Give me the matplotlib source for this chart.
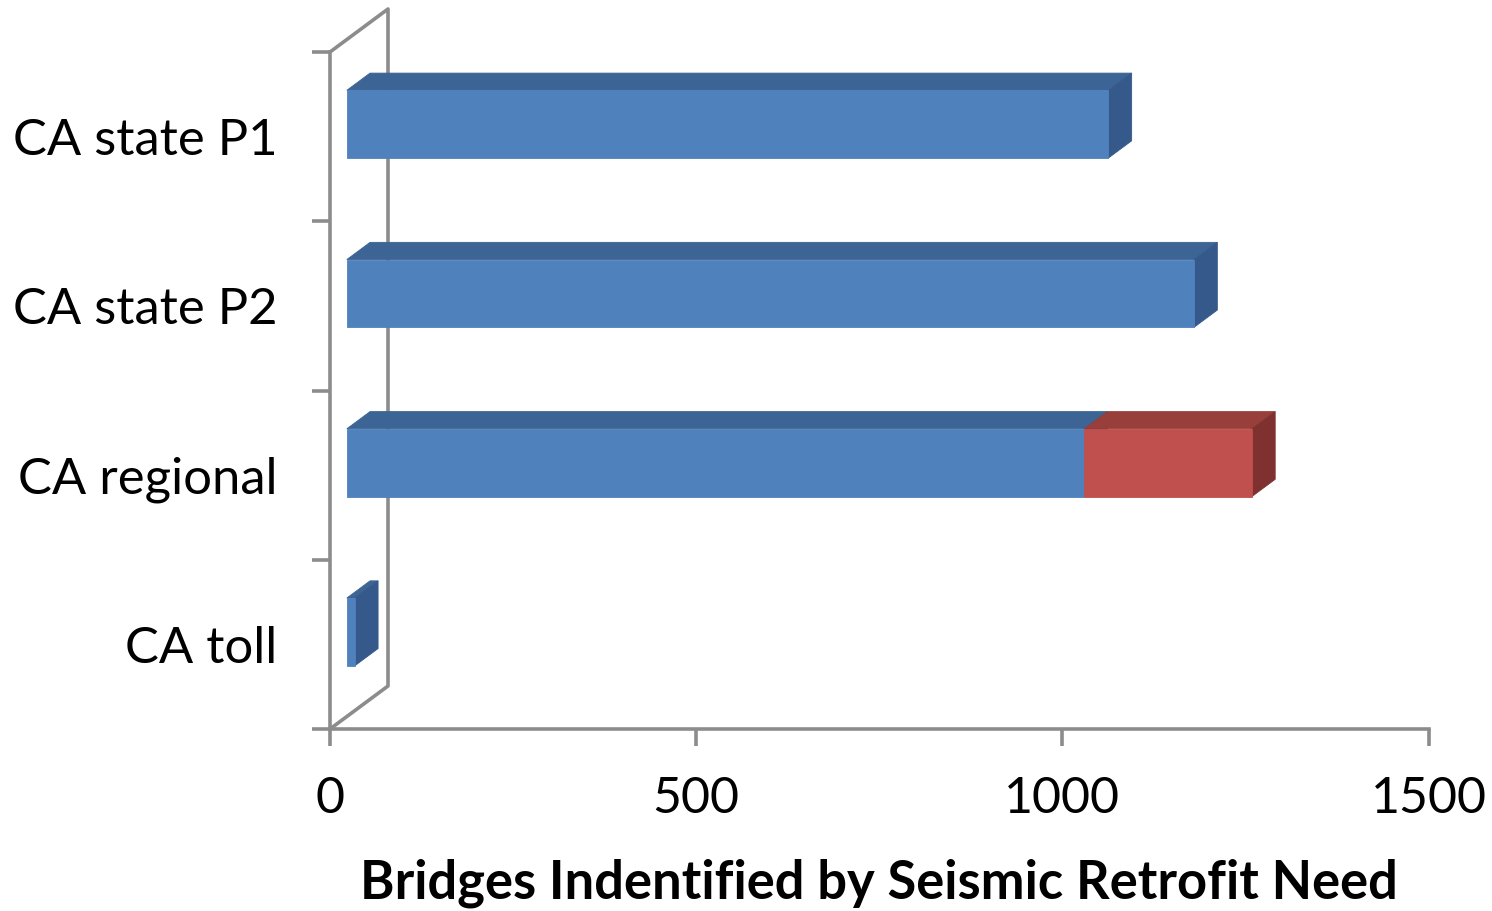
import matplotlib
matplotlib.use("Agg")
import matplotlib.pyplot as plt
from matplotlib.patches import Polygon

# ---- data ----
categories = ["CA state P1", "CA state P2", "CA regional", "CA toll"]
series_a = [1040, 1157, 1007, 11]      # blue segment
series_b = [0, 0, 229, 0]              # red segment stacked on top
x_ticks = [0, 500, 1000, 1500]
x_title = "Bridges Indentified by Seismic Retrofit Need"

# ---- style ----
FONT = "Lato"
GRAY = "#8C8C8C"
LW = 2.6
blue = {"front": "#4F81BD", "top": "#3C6494", "side": "#35598A"}
red = {"front": "#C0504D", "top": "#983E3B", "side": "#7E312F"}

W, H, DPI = 1492, 911, 100
fig = plt.figure(figsize=(W / DPI, H / DPI), dpi=DPI)

# plot box in pixel terms (front plane)
x0_px, x1_px = 330, 1428.5
y_bot_px, y_top_px = 729, 52
ax = fig.add_axes([x0_px / W, (H - y_bot_px) / H,
                   (x1_px - x0_px) / W, (y_bot_px - y_top_px) / H])
ax.set_xlim(0, 1500)
ax.set_ylim(0, 4)

# oblique depth vector (full depth) expressed in data units
DX = 58 * 1500 / (x1_px - x0_px)
DY = 43 * 4 / (y_bot_px - y_top_px)
D_FRONT, D_BACK = 0.29, 0.69     # bar occupies this slice of the depth
HALF = 0.2                       # half bar thickness (category units)


def proj(x, y, d):
    return (x + d * DX, y + d * DY)


def box(x_start, x_end, yc, colors):
    yb, yt = yc - HALF, yc + HALF
    front = [proj(x_start, yb, D_FRONT), proj(x_end, yb, D_FRONT),
             proj(x_end, yt, D_FRONT), proj(x_start, yt, D_FRONT)]
    top = [proj(x_start, yt, D_FRONT), proj(x_end, yt, D_FRONT),
           proj(x_end, yt, D_BACK), proj(x_start, yt, D_BACK)]
    side = [proj(x_end, yb, D_FRONT), proj(x_end, yb, D_BACK),
            proj(x_end, yt, D_BACK), proj(x_end, yt, D_FRONT)]
    for pts, key in ((top, "top"), (side, "side"), (front, "front")):
        ax.add_patch(Polygon(pts, closed=True, facecolor=colors[key],
                             edgecolor=colors[key], lw=0.6, zorder=3))


# left wall outline (back edges)
wall = [proj(0, 4, 0), proj(0, 4, 1), proj(0, 0, 1), proj(0, 0, 0)]
ax.plot([p[0] for p in wall], [p[1] for p in wall], color=GRAY, lw=LW,
        solid_capstyle="round", solid_joinstyle="round", zorder=2,
        clip_on=False)

# bars: category order from top to bottom
n = len(categories)
for i, (cat, a, b) in enumerate(zip(categories, series_a, series_b)):
    yc = n - 0.5 - i
    box(0, a, yc, blue)
    if b > 0:
        box(a, a + b, yc, red)

# axes, ticks and labels
for side in ("top", "right"):
    ax.spines[side].set_visible(False)
for side in ("left", "bottom"):
    ax.spines[side].set_color(GRAY)
    ax.spines[side].set_linewidth(LW)
    ax.spines[side].set_zorder(2)

ax.set_xticks(x_ticks)
ax.set_xticklabels([str(t) for t in x_ticks], fontsize=36, family=FONT)
ax.set_yticks(range(n + 1))
ax.set_yticklabels([])
ax.set_yticks([n - 0.5 - i for i in range(n)], minor=True)
ax.set_yticklabels(categories, minor=True, fontsize=36.5, family=FONT)
ax.tick_params(axis="x", which="major", direction="out", length=12,
               width=LW, color=GRAY, pad=22)
ax.tick_params(axis="y", which="major", direction="out", length=13,
               width=LW, color=GRAY)
ax.tick_params(axis="y", which="minor", length=0, pad=38)
ax.set_xlabel(x_title, fontsize=37.8, fontweight="bold", family=FONT,
              labelpad=26)

fig.savefig("out.png", dpi=DPI)
